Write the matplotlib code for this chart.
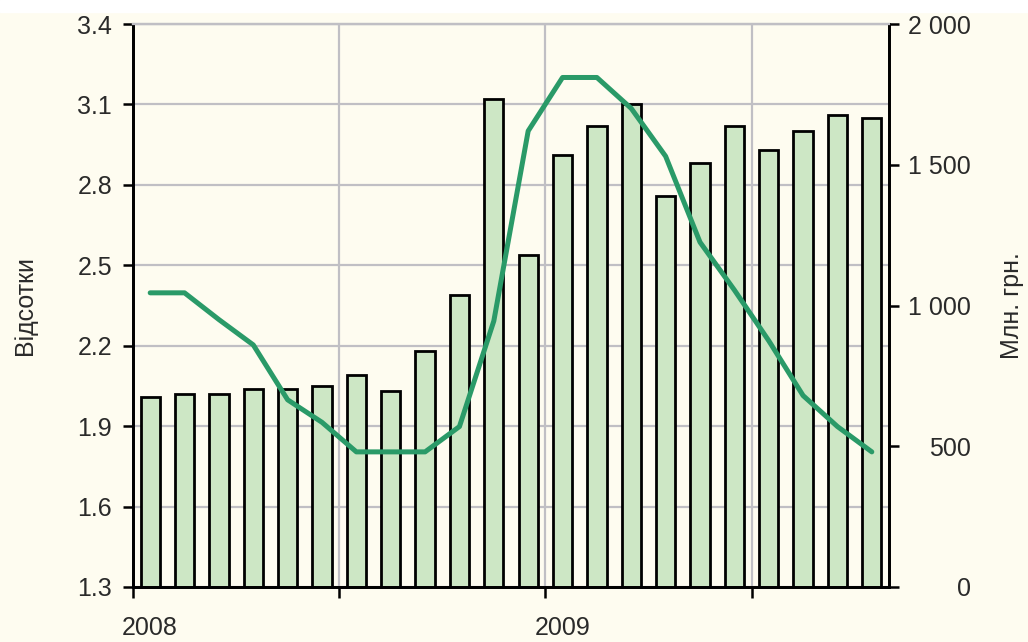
import matplotlib.pyplot as plt
import matplotlib.patches as mpatches
import numpy as np

# помісячні дані: січень 2008 - жовтень 2009
months = ['01.08', '02.08', '03.08', '04.08', '05.08', '06.08', '07.08', '08.08',
          '09.08', '10.08', '11.08', '12.08', '01.09', '02.09', '03.09', '04.09',
          '05.09', '06.09', '07.09', '08.09', '09.09', '10.09']
bar_pct = [2.01, 2.02, 2.02, 2.04, 2.04, 2.05, 2.09, 2.03, 2.18, 2.39, 3.12,
           2.54, 2.91, 3.02, 3.10, 2.76, 2.88, 3.02, 2.93, 3.00, 3.06, 3.05]
line_mln = [1045, 1045, 950, 860, 665, 585, 480, 480, 480, 570, 945,
            1620, 1810, 1810, 1700, 1530, 1225, 1055, 875, 680, 570, 480]
year_labels = ['2008', '2009']
year_pos = [0, 12]
left_ticks = [1.3, 1.6, 1.9, 2.2, 2.5, 2.8, 3.1, 3.4]
right_ticks = [0, 500, 1000, 1500, 2000]

bg = '#FEFCF0'
txt = '#2A2A2A'
grid_c = '#C0BFC4'

plt.rcParams['font.family'] = ['Liberation Sans', 'DejaVu Sans']

fig = plt.figure(figsize=(10.28, 6.42), dpi=100, facecolor=bg)
ax = fig.add_axes([133 / 1028, 55 / 642, 756 / 1028, 563 / 642])
ax.set_facecolor(bg)
ax2 = ax.twinx()

x = np.arange(len(months))

# стовпчики
ax.bar(x, bar_pct, width=0.56, color='#CDE7C5', edgecolor='black', linewidth=2.0, zorder=2)
ax.set_ylim(1.3, 3.4)
ax.set_xlim(-0.5, len(months) - 0.5)
ax.set_axisbelow(True)

# лінія
ax2.plot(x, line_mln, color='#2A9A68', linewidth=3.6, solid_joinstyle='round',
         solid_capstyle='round')
ax2.set_ylim(0, 2000)

# сітка
ax.set_yticks(left_ticks)
ax.set_yticklabels(['%.1f' % v for v in left_ticks])
ax.set_xticks([-0.5, 5.5, 11.5, 17.5])
ax.set_xticklabels([])
ax.set_xticks(year_pos, minor=True)
ax.set_xticklabels(year_labels, minor=True)
ax.grid(True, which='major', color=grid_c, linewidth=1.6)

ax.tick_params(axis='y', direction='out', length=7, width=1.8, pad=8,
               labelsize=18, labelcolor=txt)
ax.tick_params(axis='x', which='major', direction='out', length=8, width=1.8)
ax.tick_params(axis='x', which='minor', length=0, pad=21, labelsize=18, labelcolor=txt)

ax2.set_yticks(right_ticks)
ax2.set_yticklabels([format(v, ',').replace(',', ' ') for v in right_ticks])
ax2.tick_params(axis='y', direction='out', length=7, width=1.8, pad=52,
                labelsize=18, labelcolor=txt)
for lab in ax2.get_yticklabels():
    lab.set_horizontalalignment('right')

for a in (ax, ax2):
    a.spines['top'].set_color(grid_c)
    a.spines['top'].set_linewidth(1.6)
    for s in ('left', 'right', 'bottom'):
        a.spines[s].set_linewidth(2.0)
        a.spines[s].set_color('black')

ax.set_ylabel('Відсотки', fontsize=18, color=txt, va='center')
ax.yaxis.set_label_coords(-0.143, 0.5)
ax2.set_ylabel('Млн. грн.', fontsize=18, color=txt, va='center', rotation=90)
ax2.yaxis.set_label_coords(1.163, 0.5)

# біла смуга зверху
fig.patches.append(mpatches.Rectangle((0, 1 - 12 / 642), 1, 12 / 642,
                                      transform=fig.transFigure, color='white', zorder=0))

fig.savefig('out.png', dpi=100, facecolor=bg)
